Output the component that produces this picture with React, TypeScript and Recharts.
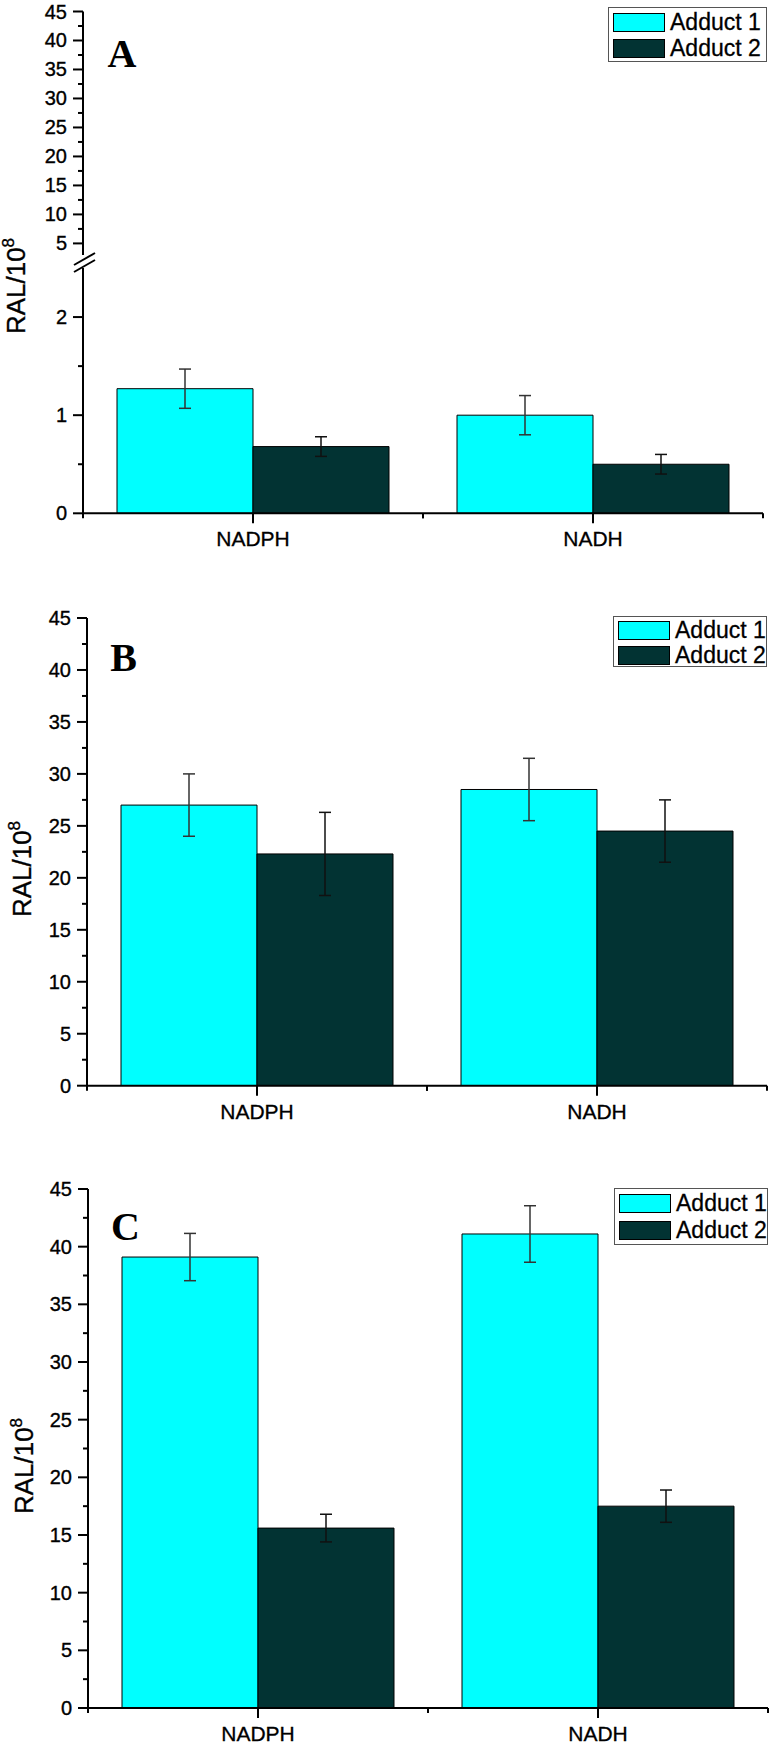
import React from 'react';
import { BarChart, Bar, XAxis, YAxis, ErrorBar, Legend } from 'recharts';

// ---------- data ----------
const categories = ['NADPH', 'NADH'];
const seriesNames = ['Adduct 1', 'Adduct 2'];
const seriesColors = ['#00FFFF', '#023333'];

// Panel A
const panelAAdduct1 = [1.27, 1.0];
const panelAAdduct1Err = [0.2, 0.2];
const panelAAdduct2 = [0.68, 0.5];
const panelAAdduct2Err = [0.1, 0.1];
// Panel B
const panelBAdduct1 = [27.0, 28.5];
const panelBAdduct1Err = [3.0, 3.0];
const panelBAdduct2 = [22.3, 24.5];
const panelBAdduct2Err = [4.0, 3.0];
// Panel C
const panelCAdduct1 = [39.1, 41.1];
const panelCAdduct1Err = [2.05, 2.45];
const panelCAdduct2 = [15.6, 17.5];
const panelCAdduct2Err = [1.2, 1.4];

// tick values
const fullMajorTicks = [0, 5, 10, 15, 20, 25, 30, 35, 40, 45];
const fullMinorTicks = [2.5, 7.5, 12.5, 17.5, 22.5, 27.5, 32.5, 37.5, 42.5];
const upperAMajorTicks = [5, 10, 15, 20, 25, 30, 35, 40, 45];
const upperAMinorTicks = [7.5, 12.5, 17.5, 22.5, 27.5, 32.5, 37.5, 42.5];
const lowerAMajorTicks = [0, 1, 2];
const lowerAMinorTicks = [0.5, 1.5];

const buildData = (a1: number[], e1: number[], a2: number[], e2: number[]) =>
  categories.map((c, i) => ({ category: c, a1: a1[i], e1: e1[i], a2: a2[i], e2: e2[i] }));

const dataA = buildData(panelAAdduct1, panelAAdduct1Err, panelAAdduct2, panelAAdduct2Err);
const dataB = buildData(panelBAdduct1, panelBAdduct1Err, panelBAdduct2, panelBAdduct2Err);
const dataC = buildData(panelCAdduct1, panelCAdduct1Err, panelCAdduct2, panelCAdduct2Err);

// ---------- styling ----------
const FONT = '"Liberation Sans", Arial, sans-serif';
const SERIF = '"Liberation Serif", "Times New Roman", serif';
const Y_TICK_SIZE = 10;
const Y_TICK_MARGIN = 7;
const X_TICK_SIZE = 10;
const X_TICK_MARGIN = 4;
const HALF_BAND = 170;

const YTick = (props: any) => {
  const { x, y, payload, majors } = props;
  const value = payload.value;
  const major = majors.indexOf(value) >= 0;
  const axisX = x + Y_TICK_SIZE + Y_TICK_MARGIN;
  return (
    <g>
      <line x1={axisX - (major ? 10 : 5)} y1={y} x2={axisX} y2={y} stroke="#000" strokeWidth={2} />
      {major ? (
        <text
          x={axisX - 16}
          y={y + 7}
          textAnchor="end"
          fontFamily={FONT}
          fontSize={20}
          fill="#000"
          stroke="#000"
          strokeWidth={0.35}
        >
          {value}
        </text>
      ) : null}
    </g>
  );
};

const XTick = (props: any) => {
  const { x, y, payload } = props;
  const axisY = y - X_TICK_SIZE - X_TICK_MARGIN;
  return (
    <g>
      <line x1={x} y1={axisY} x2={x} y2={axisY + 10} stroke="#000" strokeWidth={2} />
      <line x1={x - HALF_BAND} y1={axisY} x2={x - HALF_BAND} y2={axisY + 5} stroke="#000" strokeWidth={2} />
      <line x1={x + HALF_BAND} y1={axisY} x2={x + HALF_BAND} y2={axisY + 5} stroke="#000" strokeWidth={2} />
      <text
        x={x}
        y={axisY + 33}
        textAnchor="middle"
        fontFamily={FONT}
        fontSize={21}
        fill="#000"
        stroke="#000"
        strokeWidth={0.3}
      >
        {payload.value}
      </text>
    </g>
  );
};

const YLabel = (props: any) => {
  const { cx, cy } = props;
  return (
    <text
      x={cx}
      y={cy}
      transform={`rotate(-90, ${cx}, ${cy})`}
      textAnchor="middle"
      fontFamily={FONT}
      fontSize={26}
      fill="#000"
      stroke="#000"
      strokeWidth={0.35}
    >
      RAL/10
      <tspan dy={-11} fontSize={17}>8</tspan>
    </text>
  );
};

const LegendBox = (props: any) => {
  const { w, h } = props;
  return (
    <div
      style={{
        width: w,
        height: h,
        border: '1px solid #555',
        background: '#fff',
        boxSizing: 'border-box',
        position: 'relative',
        fontFamily: FONT,
      }}
    >
      {seriesNames.map((n, i) => (
        <div
          key={n}
          style={{
            position: 'absolute',
            left: 4,
            top: h * 0.085 + i * h * 0.48,
            height: 19,
            display: 'flex',
            alignItems: 'center',
            whiteSpace: 'nowrap',
          }}
        >
          <div
            style={{
              width: 52,
              height: 19,
              background: seriesColors[i],
              border: '1.5px solid #000',
              boxSizing: 'border-box',
            }}
          />
          <span
            style={{
              marginLeft: 5,
              fontSize: 23,
              lineHeight: '19px',
              color: '#000',
              WebkitTextStroke: '0.3px #000',
            }}
          >
            {n}
          </span>
        </div>
      ))}
    </div>
  );
};

const axisLine = { stroke: '#000', strokeWidth: 2 };

const renderBars = () => [
  <Bar
    key="a1"
    dataKey="a1"
    name={seriesNames[0]}
    fill={seriesColors[0]}
    stroke="#000"
    strokeWidth={1}
    isAnimationActive={false}
  >
    <ErrorBar dataKey="e1" width={6} stroke="#333" strokeWidth={1.5} direction="y" isAnimationActive={false} />
  </Bar>,
  <Bar
    key="a2"
    dataKey="a2"
    name={seriesNames[1]}
    fill={seriesColors[1]}
    stroke="#000"
    strokeWidth={1}
    isAnimationActive={false}
  >
    <ErrorBar dataKey="e2" width={6} stroke="#111" strokeWidth={1.5} direction="y" isAnimationActive={false} />
  </Bar>,
];

const sortNum = (arr: number[]) => [...arr].sort((a, b) => a - b);

export default function App() {
  return (
    <div
      style={{
        position: 'absolute',
        left: 0,
        top: 0,
        width: 773,
        height: 1747,
        background: '#fff',
        overflow: 'hidden',
      }}
    >
      {/* Panel A upper segment (broken axis top part) */}
      <div style={{ position: 'absolute', left: 0, top: 0 }}>
        <BarChart
          width={773}
          height={262}
          data={dataA}
          margin={{ top: 11.5, right: 10, bottom: 7, left: 0 }}
          barCategoryGap="10%"
          barGap={0}
        >
          <XAxis dataKey="category" hide />
          <YAxis
            type="number"
            domain={[3, 45]}
            allowDataOverflow
            ticks={sortNum([...upperAMajorTicks, ...upperAMinorTicks])}
            interval={0}
            width={83}
            tickSize={Y_TICK_SIZE}
            tickMargin={Y_TICK_MARGIN}
            tickLine={false}
            axisLine={axisLine}
            tick={<YTick majors={upperAMajorTicks} />}
          />
          <Legend
            layout="horizontal"
            verticalAlign="middle"
            align="center"
            wrapperStyle={{ top: 7, left: 608, width: 159, height: 55 }}
            content={<LegendBox w={159} h={55} />}
          />
        </BarChart>
      </div>

      {/* Panel A lower segment */}
      <div style={{ position: 'absolute', left: 0, top: 230 }}>
        <BarChart
          width={773}
          height={330}
          data={dataA}
          margin={{ top: 38, right: 10, bottom: 6.7, left: 0 }}
          barCategoryGap="10%"
          barGap={0}
        >
          <XAxis
            dataKey="category"
            height={40}
            interval={0}
            tickSize={X_TICK_SIZE}
            tickMargin={X_TICK_MARGIN}
            tickLine={false}
            axisLine={axisLine}
            tick={<XTick />}
          />
          <YAxis
            type="number"
            domain={[0, 2.5]}
            allowDataOverflow
            ticks={sortNum([...lowerAMajorTicks, ...lowerAMinorTicks])}
            interval={0}
            width={83}
            tickSize={Y_TICK_SIZE}
            tickMargin={Y_TICK_MARGIN}
            tickLine={false}
            axisLine={axisLine}
            tick={<YTick majors={lowerAMajorTicks} />}
            label={<YLabel cx={25} cy={56} />}
          />
          {renderBars()}
        </BarChart>
      </div>

      {/* Panel B */}
      <div style={{ position: 'absolute', left: 0, top: 560 }}>
        <BarChart
          width={773}
          height={580}
          data={dataB}
          margin={{ top: 58, right: 6, bottom: 14.3, left: 0 }}
          barCategoryGap="10%"
          barGap={0}
        >
          <XAxis
            dataKey="category"
            height={40}
            interval={0}
            tickSize={X_TICK_SIZE}
            tickMargin={X_TICK_MARGIN}
            tickLine={false}
            axisLine={axisLine}
            tick={<XTick />}
          />
          <YAxis
            type="number"
            domain={[0, 45]}
            allowDataOverflow
            ticks={sortNum([...fullMajorTicks, ...fullMinorTicks])}
            interval={0}
            width={87}
            tickSize={Y_TICK_SIZE}
            tickMargin={Y_TICK_MARGIN}
            tickLine={false}
            axisLine={axisLine}
            tick={<YTick majors={fullMajorTicks} />}
            label={<YLabel cx={31} cy={309} />}
          />
          {renderBars()}
          <Legend
            layout="horizontal"
            verticalAlign="middle"
            align="center"
            wrapperStyle={{ top: 56, left: 613, width: 154, height: 51 }}
            content={<LegendBox w={154} h={51} />}
          />
        </BarChart>
      </div>

      {/* Panel C */}
      <div style={{ position: 'absolute', left: 0, top: 1140 }}>
        <BarChart
          width={773}
          height={607}
          data={dataC}
          margin={{ top: 49, right: 5, bottom: 9, left: 0 }}
          barCategoryGap="10%"
          barGap={0}
        >
          <XAxis
            dataKey="category"
            height={30}
            interval={0}
            tickSize={X_TICK_SIZE}
            tickMargin={X_TICK_MARGIN}
            tickLine={false}
            axisLine={axisLine}
            tick={<XTick />}
          />
          <YAxis
            type="number"
            domain={[0, 45]}
            allowDataOverflow
            ticks={sortNum([...fullMajorTicks, ...fullMinorTicks])}
            interval={0}
            width={88}
            tickSize={Y_TICK_SIZE}
            tickMargin={Y_TICK_MARGIN}
            tickLine={false}
            axisLine={axisLine}
            tick={<YTick majors={fullMajorTicks} />}
            label={<YLabel cx={32.5} cy={326} />}
          />
          {renderBars()}
          <Legend
            layout="horizontal"
            verticalAlign="middle"
            align="center"
            wrapperStyle={{ top: 48, left: 614, width: 154, height: 57 }}
            content={<LegendBox w={154} h={57} />}
          />
        </BarChart>
      </div>

      {/* panel letters and axis-break marks */}
      <svg
        width={773}
        height={1747}
        style={{ position: 'absolute', left: 0, top: 0, pointerEvents: 'none' }}
      >
        <text x={122} y={67} textAnchor="middle" fontFamily={SERIF} fontWeight="bold" fontSize={40} fill="#000">
          A
        </text>
        <text x={123.5} y={671} textAnchor="middle" fontFamily={SERIF} fontWeight="bold" fontSize={40} fill="#000">
          B
        </text>
        <text x={125.5} y={1240} textAnchor="middle" fontFamily={SERIF} fontWeight="bold" fontSize={40} fill="#000">
          C
        </text>
        <line x1={74} y1={265} x2={95} y2={253} stroke="#000" strokeWidth={2} />
        <line x1={74} y1={272} x2={95} y2={260} stroke="#000" strokeWidth={2} />
      </svg>
    </div>
  );
}
